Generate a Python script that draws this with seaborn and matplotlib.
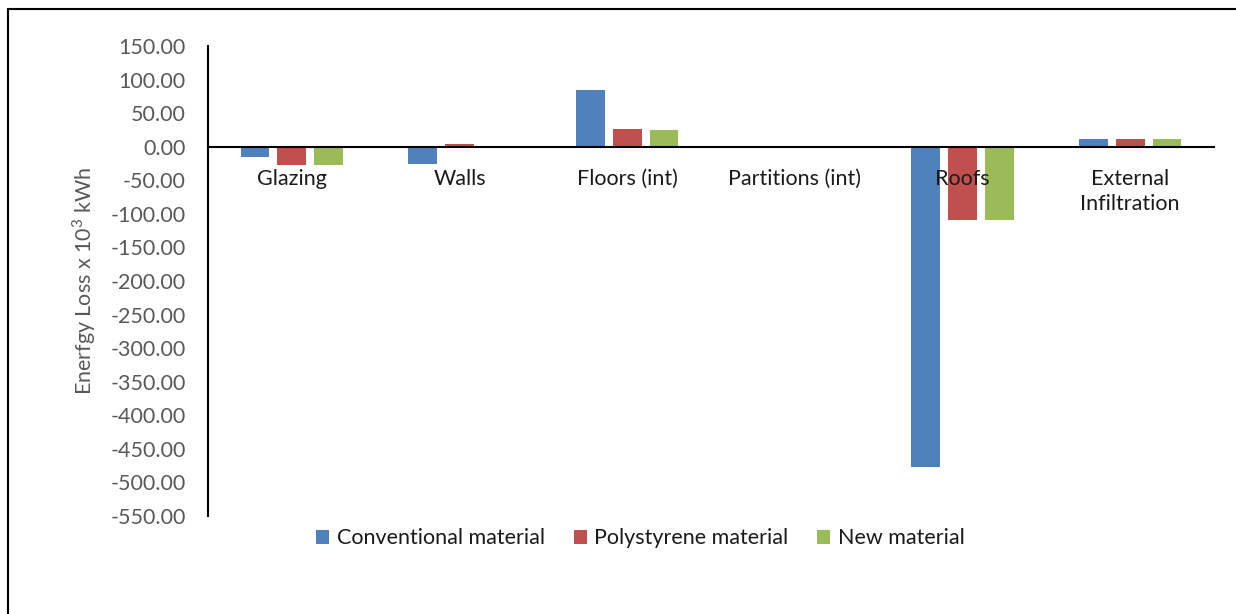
import numpy as np
import pandas as pd
import matplotlib
matplotlib.use("Agg")
import matplotlib.pyplot as plt
from matplotlib.lines import Line2D
import seaborn as sns

# Energy loss components (x 10^3 kWh)
categories = ["Glazing", "Walls", "Floors (int)", "Partitions (int)", "Roofs",
              "External\nInfiltration"]
conventional = [-16, -26, 84, 0, -477, 11]
polystyrene = [-27, 4, 26, 0, -109, 11]
new_material = [-27, 0, 25, 0, -109, 11]
series_names = ["Conventional material", "Polystyrene material", "New material"]
palette = ["#4F81BD", "#C0504D", "#9BBB59"]
y_ticks = np.arange(-550, 151, 50)

df = pd.DataFrame({
    "category": categories * 3,
    "value": conventional + polystyrene + new_material,
    "series": [s for s in series_names for _ in categories],
})

sns.set_theme(style="white")
plt.rcParams["font.family"] = ["Lato", "DejaVu Sans"]
plt.rcParams["mathtext.fontset"] = "custom"
plt.rcParams["mathtext.rm"] = "Lato"

FS = 15.5

fig = plt.figure(figsize=(12.36, 6.14), dpi=100)
ax = fig.add_axes([0.1683, 0.1596, 0.8139, 0.7655])

sns.barplot(data=df, x="category", y="value", hue="series", order=categories,
            hue_order=series_names, palette=palette, saturation=1,
            width=0.66, gap=0.22, errorbar=None, linewidth=0, ax=ax)
for p in ax.patches:
    p.set_zorder(1)
ax.set_axisbelow(False)

ax.set_ylim(-550, 150)
ax.set_xlim(-0.5, len(categories) - 0.5)
ax.set_yticks(y_ticks)
ax.set_yticklabels([f"{v:.2f}" for v in y_ticks], color="#595959", fontsize=FS)
ax.tick_params(axis="y", length=0, pad=16)
ax.tick_params(axis="x", length=0, pad=16, labelsize=FS, labelcolor="#1a1a1a")
ax.set_xlabel("")
ax.set_ylabel("Enerfgy Loss x 10$^{3}$ kWh", color="#595959", fontsize=FS, labelpad=9)

for side in ["top", "right"]:
    ax.spines[side].set_visible(False)
ax.spines["bottom"].set_position(("data", 0))
ax.spines["bottom"].set_color("black")
ax.spines["bottom"].set_linewidth(1.5)
ax.spines["left"].set_color("black")
ax.spines["left"].set_linewidth(1.5)
for lbl in ax.get_xticklabels():
    lbl.set_verticalalignment("top")
    lbl.set_linespacing(1.3)

handles, labels = ax.get_legend_handles_labels()
ax.get_legend().remove()
fig.legend(handles, labels, loc="center", bbox_to_anchor=(0.518, 0.123), ncol=3,
           frameon=False, fontsize=FS, handlelength=0.6, handleheight=0.6,
           handletextpad=0.35, columnspacing=1.35, labelcolor="#1a1a1a")

# outer frame
fig.add_artist(Line2D([0.0061, 1.0], [0.986, 0.986], transform=fig.transFigure,
                      color="black", linewidth=1.5))
fig.add_artist(Line2D([0.0061, 0.0061], [0.986, 0.0], transform=fig.transFigure,
                      color="black", linewidth=1.5))

fig.savefig("out.png", dpi=100)
